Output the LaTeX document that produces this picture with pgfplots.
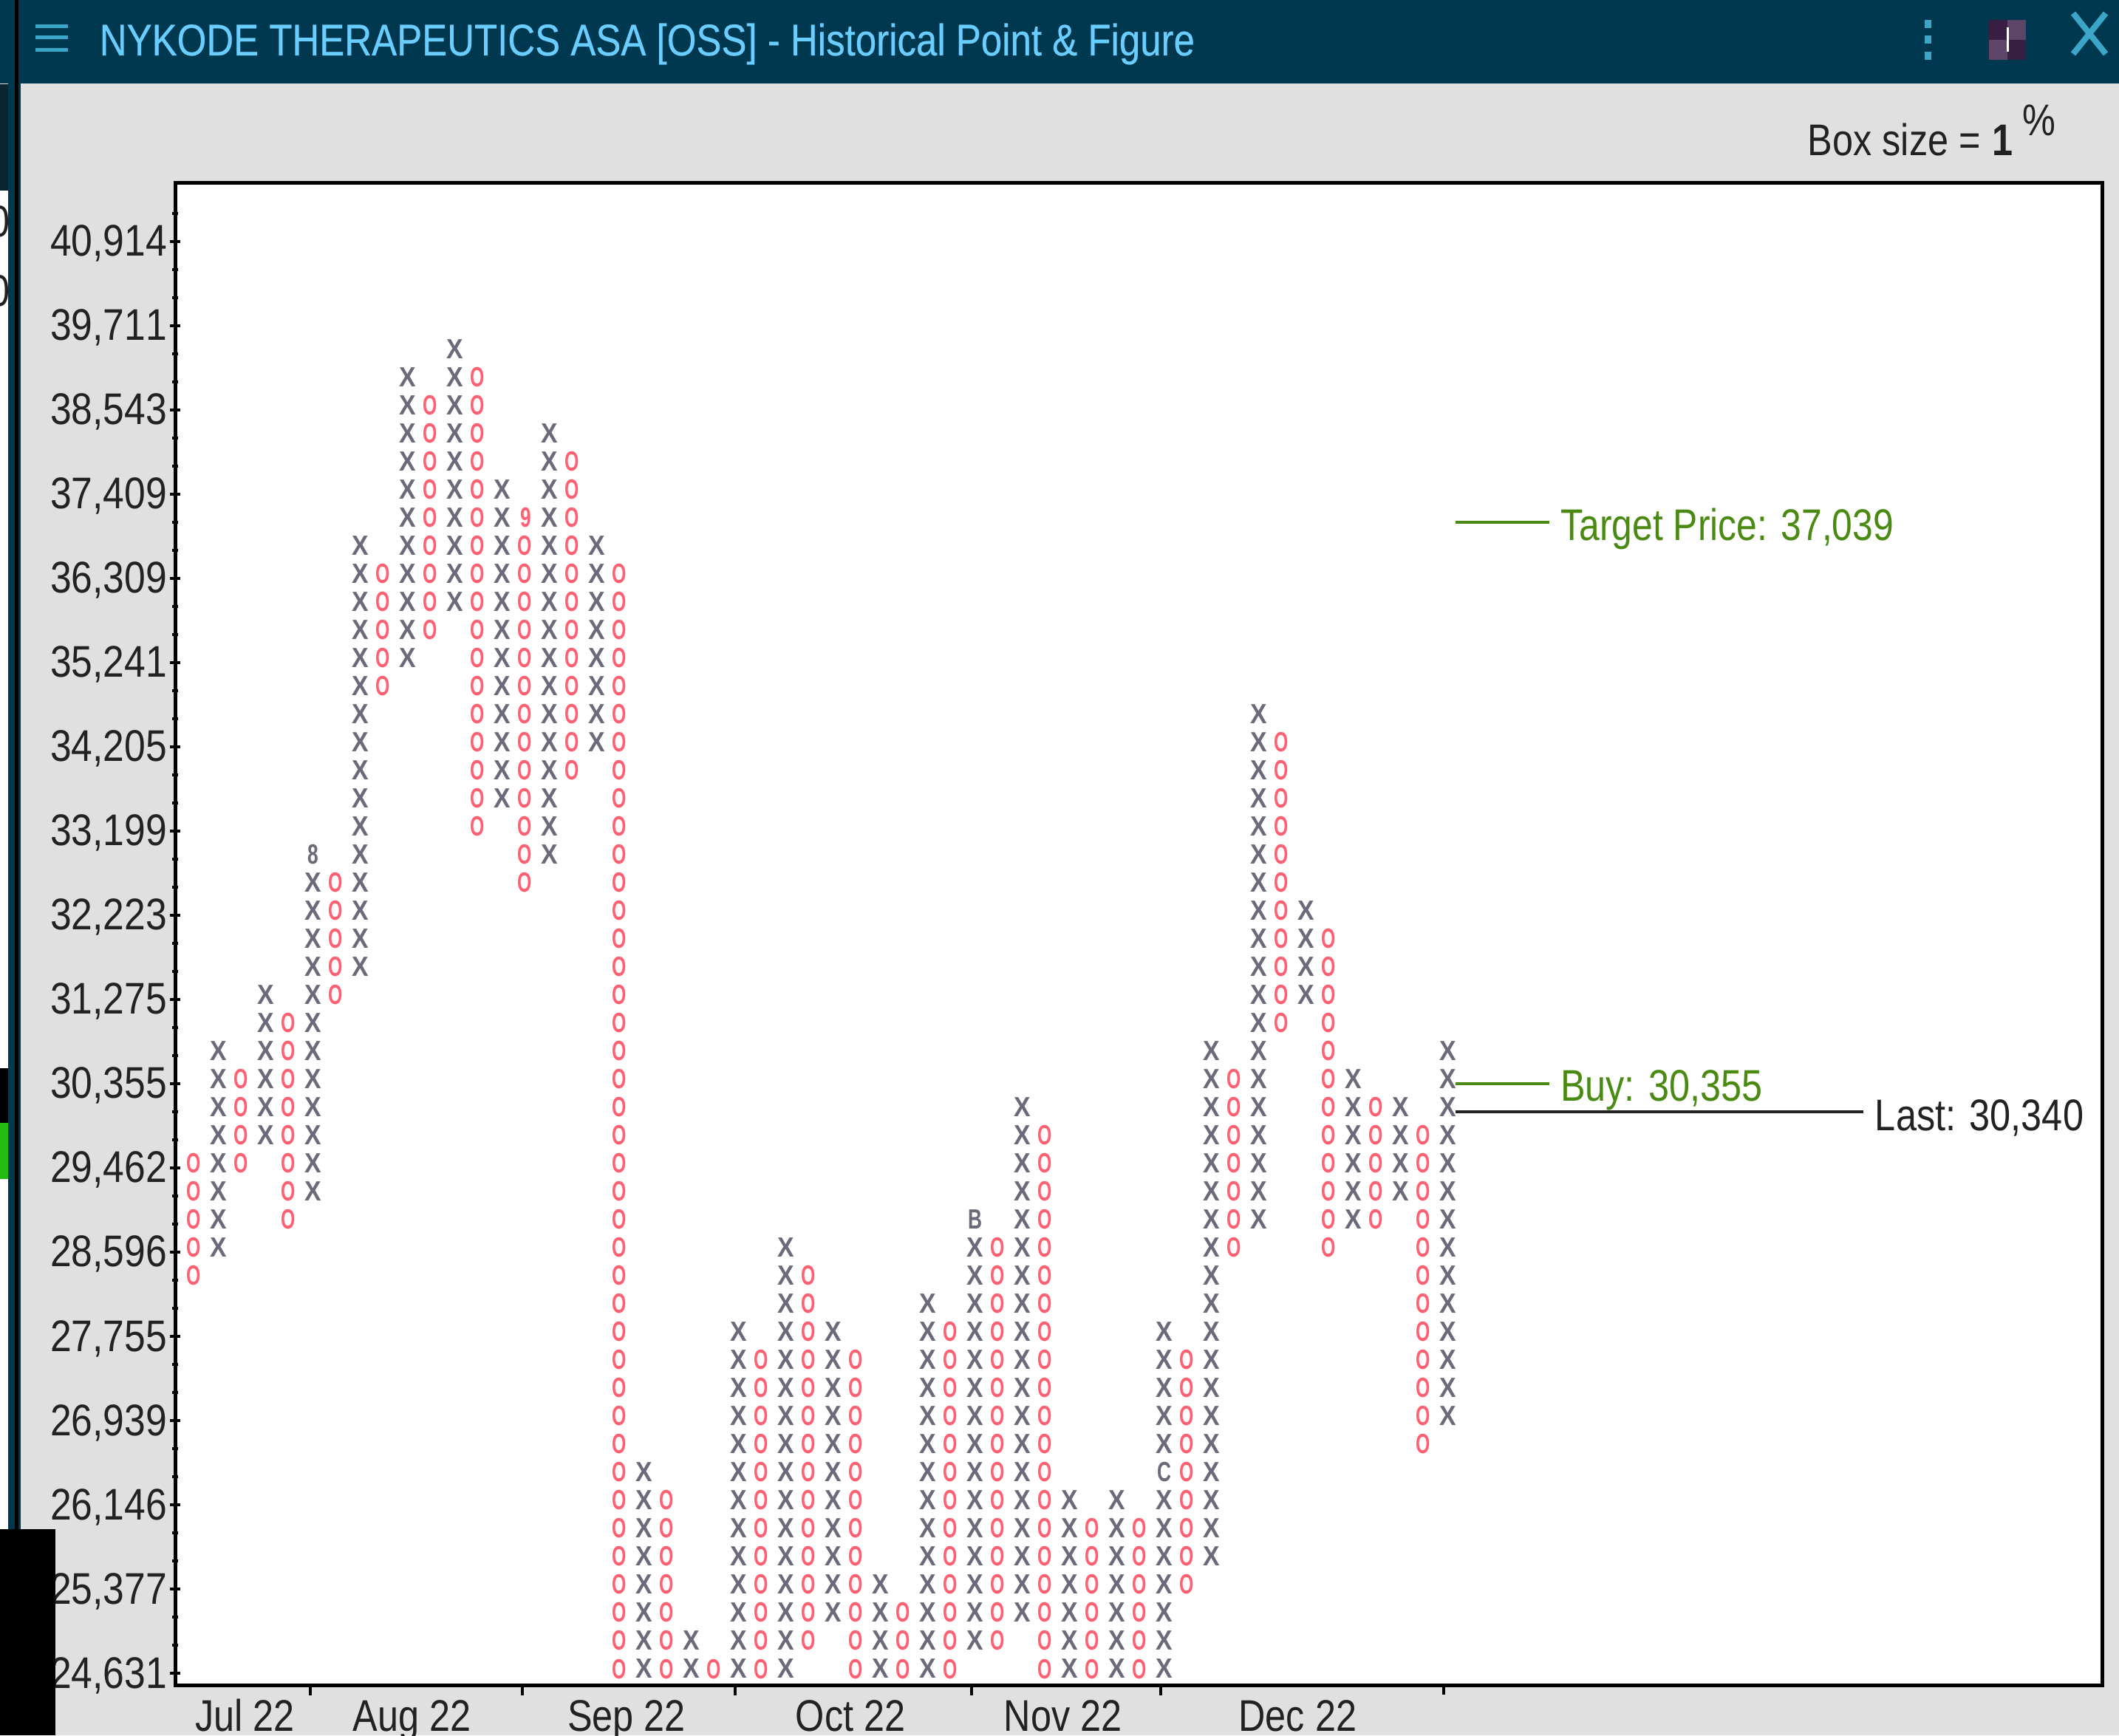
\documentclass[border=0pt]{standalone}
\usepackage{fontspec}
\usepackage{pgfplots}
\pgfplotsset{compat=1.18}
\setmainfont{Liberation Sans}[FakeStretch=0.84,Kerning=Off]
\newfontfamily\Tf{Liberation Sans}[FakeStretch=0.85,FakeBold=0.35,Kerning=Off]
\newfontfamily\Yf{Liberation Sans}[FakeStretch=0.86,Kerning=Off]
\newfontfamily\Xf{Liberation Sans}[FakeStretch=0.9]
\newfontfamily\Of{Liberation Sans}[FakeStretch=0.66]
\newfontfamily\Nf{Liberation Sans}[FakeStretch=0.7]
\definecolor{navy}{HTML}{00384F}
\definecolor{panel}{HTML}{E0E0E0}
\definecolor{cyanT}{HTML}{6ACDFF}
\definecolor{iconC}{HTML}{3BA6C8}
\definecolor{xcol}{HTML}{6A6A78}
\definecolor{ocol}{HTML}{FF6072}
\definecolor{greenT}{HTML}{4A8A12}
\definecolor{txt}{HTML}{222222}
\definecolor{dk}{HTML}{0A2530}
\definecolor{sqA}{HTML}{3A1F45}
\definecolor{sqB}{HTML}{5E4466}
\definecolor{brightG}{HTML}{22BB11}
\newcommand{\lab}{\fontsize{15pt}{17pt}\selectfont}
\begin{document}
\begin{tikzpicture}
\path[use as bounding box] (0,0) rectangle (717pt,587.25pt);
\begin{scope}[x=0.25pt,y=-0.25pt,yshift=587.25pt]
\fill[panel] (0,0) rectangle (2868,2349);
\fill[white] (0,258) rectangle (11,2070);
\fill[navy] (0,0) rectangle (2868,113);
\fill[navy] (11,113) rectangle (28,2070);
\fill[black] (20,0) rectangle (25,2070);
\fill[dk] (0,114) rectangle (11,258);
\fill[black] (0,1446) rectangle (11,1520);
\fill[brightG] (0,1520) rectangle (11,1596);
\begin{scope}
\clip (0,258) rectangle (11,500);
\node[anchor=base,text=txt,font=\lab] at (0,321) {0};
\node[anchor=base,text=txt,font=\lab] at (0,415) {0};
\end{scope}
% header
\foreach \yy in {36,51,68} \fill[iconC] (48,\yy-2.5) rectangle (92,\yy+2.5);
\node[anchor=base west,inner sep=0pt,text=cyanT,font=\fontsize{15pt}{17pt}\Tf] at (134,75) {NYKODE THERAPEUTICS ASA [OSS] - Historical Point \& Figure};
\foreach \yy in {27,48,70} \fill[iconC] (2605,\yy) rectangle (2614,\yy+11);
\fill[sqA] (2692,27) rectangle (2742,81);
\fill[sqB] (2717,27) rectangle (2742,54);
\fill[sqB] (2692,54) rectangle (2717,81);
\fill[white] (2716,37) rectangle (2719,70);
\draw[iconC,line width=2pt] (2806,18) -- (2850,73) (2850,18) -- (2806,73);
% box size
\node[anchor=base west,inner sep=0pt,text=txt,font=\lab] at (2446,211) {Box size = \hspace{0.4pt}\textbf{1}};
\node[anchor=base west,inner sep=0pt,text=txt,font=\lab] at (2737,184) {\%};
\end{scope}
\begin{axis}[
  at={(59.25pt,17pt)},anchor=south west,
  scale only axis,width=652pt,height=508.5pt,
  xmin=-0.834,xmax=80.66,ymin=-0.42,ymax=53.1,
  clip=false,
  axis background/.style={fill=white},
  axis line style={line width=1.25pt,black},
  tick style={black,line width=1pt},
  ytick pos=left,xtick pos=bottom,
  ytick={0,3,...,51},
  yticklabels={24{,}631,25{,}377,26{,}146,26{,}939,27{,}755,28{,}596,29{,}462,30{,}355,31{,}275,32{,}223,33{,}199,34{,}205,35{,}241,36{,}309,37{,}409,38{,}543,39{,}711,40{,}914},
  minor ytick={0,1,...,52},
  ytick align=center,
  major tick length=3.5pt,
  minor tick length=2pt,
  minor tick style={black,line width=1pt},
  yticklabel style={anchor=base east,font=\fontsize{15pt}{17pt}\Yf,text=txt,xshift=-0.8pt,yshift=-5pt,inner sep=0pt},
  xtick={4.88,13.85,22.85,32.85,40.85},
  xticklabels={},
  xtick align=outside,
  extra x ticks={2.12,9.18,18.26,27.73,36.71,46.64},
  extra x tick labels={Jul 22,Aug 22,Sep 22,Oct 22,Nov 22,Dec 22},
  extra x tick style={tick style={draw=none},
    xticklabel style={anchor=base,font=\lab,text=txt,yshift=-12pt,inner sep=0pt}},
  xlabel={},ylabel={},
]
% X columns
\addplot[only marks,mark=text,text mark={X},text mark as node=true,
  text mark style={font=\fontsize{9.4pt}{10pt}\Xf\bfseries,text=xcol,inner sep=0pt,yshift=1.5pt}] coordinates {
(1,15)(1,16)(1,17)(1,18)(1,19)(1,20)(1,21)(1,22)
(3,19)(3,20)(3,21)(3,22)(3,23)(3,24)
(5,17)(5,18)(5,19)(5,20)(5,21)(5,22)(5,23)(5,24)(5,25)(5,26)(5,27)(5,28)
(7,25)(7,26)(7,27)(7,28)(7,29)(7,30)(7,31)(7,32)(7,33)(7,34)(7,35)(7,36)(7,37)(7,38)(7,39)(7,40)
(9,36)(9,37)(9,38)(9,39)(9,40)(9,41)(9,42)(9,43)(9,44)(9,45)(9,46)
(11,38)(11,39)(11,40)(11,41)(11,42)(11,43)(11,44)(11,45)(11,46)(11,47)
(13,31)(13,32)(13,33)(13,34)(13,35)(13,36)(13,37)(13,38)(13,39)(13,40)(13,41)(13,42)
(15,29)(15,30)(15,31)(15,32)(15,33)(15,34)(15,35)(15,36)(15,37)(15,38)(15,39)(15,40)(15,41)(15,42)(15,43)(15,44)
(17,33)(17,34)(17,35)(17,36)(17,37)(17,38)(17,39)(17,40)
(19,0)(19,1)(19,2)(19,3)(19,4)(19,5)(19,6)(19,7)
(21,0)(21,1)
(23,0)(23,1)(23,2)(23,3)(23,4)(23,5)(23,6)(23,7)(23,8)(23,9)(23,10)(23,11)(23,12)
(25,0)(25,1)(25,2)(25,3)(25,4)(25,5)(25,6)(25,7)(25,8)(25,9)(25,10)(25,11)(25,12)(25,13)(25,14)(25,15)
(27,2)(27,3)(27,4)(27,5)(27,6)(27,7)(27,8)(27,9)(27,10)(27,11)(27,12)
(29,0)(29,1)(29,2)(29,3)
(31,0)(31,1)(31,2)(31,3)(31,4)(31,5)(31,6)(31,7)(31,8)(31,9)(31,10)(31,11)(31,12)(31,13)
(33,1)(33,2)(33,3)(33,4)(33,5)(33,6)(33,7)(33,8)(33,9)(33,10)(33,11)(33,12)(33,13)(33,14)(33,15)
(35,2)(35,3)(35,4)(35,5)(35,6)(35,7)(35,8)(35,9)(35,10)(35,11)(35,12)(35,13)(35,14)(35,15)(35,16)(35,17)(35,18)(35,19)(35,20)
(37,0)(37,1)(37,2)(37,3)(37,4)(37,5)(37,6)
(39,0)(39,1)(39,2)(39,3)(39,4)(39,5)(39,6)
(41,0)(41,1)(41,2)(41,3)(41,4)(41,5)(41,6)(41,8)(41,9)(41,10)(41,11)(41,12)
(43,4)(43,5)(43,6)(43,7)(43,8)(43,9)(43,10)(43,11)(43,12)(43,13)(43,14)(43,15)(43,16)(43,17)(43,18)(43,19)(43,20)(43,21)(43,22)
(45,16)(45,17)(45,18)(45,19)(45,20)(45,21)(45,22)(45,23)(45,24)(45,25)(45,26)(45,27)(45,28)(45,29)(45,30)(45,31)(45,32)(45,33)(45,34)
(47,24)(47,25)(47,26)(47,27)
(49,16)(49,17)(49,18)(49,19)(49,20)(49,21)
(51,17)(51,18)(51,19)(51,20)
(53,9)(53,10)(53,11)(53,12)(53,13)(53,14)(53,15)(53,16)(53,17)(53,18)(53,19)(53,20)(53,21)(53,22)
};
% O columns
\addplot[only marks,mark=text,text mark={O},text mark as node=true,
  text mark style={font=\fontsize{9.4pt}{10pt}\Of\bfseries,text=ocol,inner sep=0pt,yshift=1.5pt,xshift=-0.5pt}] coordinates {
(0,14)(0,15)(0,16)(0,17)(0,18)
(2,18)(2,19)(2,20)(2,21)
(4,16)(4,17)(4,18)(4,19)(4,20)(4,21)(4,22)(4,23)
(6,24)(6,25)(6,26)(6,27)(6,28)
(8,35)(8,36)(8,37)(8,38)(8,39)
(10,37)(10,38)(10,39)(10,40)(10,41)(10,42)(10,43)(10,44)(10,45)
(12,30)(12,31)(12,32)(12,33)(12,34)(12,35)(12,36)(12,37)(12,38)(12,39)(12,40)(12,41)(12,42)(12,43)(12,44)(12,45)(12,46)
(14,28)(14,29)(14,30)(14,31)(14,32)(14,33)(14,34)(14,35)(14,36)(14,37)(14,38)(14,39)(14,40)
(16,32)(16,33)(16,34)(16,35)(16,36)(16,37)(16,38)(16,39)(16,40)(16,41)(16,42)(16,43)
(18,0)(18,1)(18,2)(18,3)(18,4)(18,5)(18,6)(18,7)(18,8)(18,9)(18,10)(18,11)(18,12)(18,13)(18,14)(18,15)(18,16)(18,17)(18,18)(18,19)(18,20)(18,21)(18,22)(18,23)(18,24)(18,25)(18,26)(18,27)(18,28)(18,29)(18,30)(18,31)(18,32)(18,33)(18,34)(18,35)(18,36)(18,37)(18,38)(18,39)
(20,0)(20,1)(20,2)(20,3)(20,4)(20,5)(20,6)
(22,0)
(24,0)(24,1)(24,2)(24,3)(24,4)(24,5)(24,6)(24,7)(24,8)(24,9)(24,10)(24,11)
(26,1)(26,2)(26,3)(26,4)(26,5)(26,6)(26,7)(26,8)(26,9)(26,10)(26,11)(26,12)(26,13)(26,14)
(28,0)(28,1)(28,2)(28,3)(28,4)(28,5)(28,6)(28,7)(28,8)(28,9)(28,10)(28,11)
(30,0)(30,1)(30,2)
(32,0)(32,1)(32,2)(32,3)(32,4)(32,5)(32,6)(32,7)(32,8)(32,9)(32,10)(32,11)(32,12)
(34,1)(34,2)(34,3)(34,4)(34,5)(34,6)(34,7)(34,8)(34,9)(34,10)(34,11)(34,12)(34,13)(34,14)(34,15)
(36,0)(36,1)(36,2)(36,3)(36,4)(36,5)(36,6)(36,7)(36,8)(36,9)(36,10)(36,11)(36,12)(36,13)(36,14)(36,15)(36,16)(36,17)(36,18)(36,19)
(38,0)(38,1)(38,2)(38,3)(38,4)(38,5)
(40,0)(40,1)(40,2)(40,3)(40,4)(40,5)
(42,3)(42,4)(42,5)(42,6)(42,7)(42,8)(42,9)(42,10)(42,11)
(44,15)(44,16)(44,17)(44,18)(44,19)(44,20)(44,21)
(46,23)(46,24)(46,25)(46,26)(46,27)(46,28)(46,29)(46,30)(46,31)(46,32)(46,33)
(48,15)(48,16)(48,17)(48,18)(48,19)(48,20)(48,21)(48,22)(48,23)(48,24)(48,25)(48,26)
(50,16)(50,17)(50,18)(50,19)(50,20)
(52,8)(52,9)(52,10)(52,11)(52,12)(52,13)(52,14)(52,15)(52,16)(52,17)(52,18)(52,19)
};
% month-start glyphs
\addplot[only marks,mark=text,text mark={8},text mark as node=true,
  text mark style={font=\fontsize{9.4pt}{10pt}\Nf\bfseries,text=xcol,inner sep=0pt,yshift=1.5pt}] coordinates {(5,29)};
\addplot[only marks,mark=text,text mark={9},text mark as node=true,
  text mark style={font=\fontsize{9.4pt}{10pt}\Nf\bfseries,text=ocol,inner sep=0pt,yshift=1.5pt}] coordinates {(14,41)};
\addplot[only marks,mark=text,text mark={B},text mark as node=true,
  text mark style={font=\fontsize{9.4pt}{10pt}\Nf\bfseries,text=xcol,inner sep=0pt,yshift=1.5pt}] coordinates {(33,16)};
\addplot[only marks,mark=text,text mark={C},text mark as node=true,
  text mark style={font=\fontsize{9.4pt}{10pt}\Nf\bfseries,text=xcol,inner sep=0pt,yshift=1.5pt}] coordinates {(41,7)};
% level lines
\addplot[greenT,line width=1pt,no marks] coordinates {(53.32,41)(57.3,41)};
\addplot[greenT,line width=1pt,no marks] coordinates {(53.32,21)(57.3,21)};
\addplot[txt,line width=1pt,no marks] coordinates {(53.32,20)(70.57,20)};
\node[anchor=base west,inner sep=0pt,text=greenT,font=\fontsize{15pt}{17pt}\Xf\addfontfeature{FakeStretch=0.83}] at (axis cs:57.75,40.34) {Target Price: 37,039};
\node[anchor=base west,inner sep=0pt,text=greenT,font=\lab] at (axis cs:57.73,20.37) {Buy: 30,355};
\node[anchor=base west,inner sep=0pt,text=txt,font=\lab] at (axis cs:71.04,19.34) {Last: 30,340};
\draw[black,line width=1pt] (axis cs:52.83,-0.42) -- ([yshift=-3.2pt]axis cs:52.83,-0.42);
\end{axis}
\begin{scope}[x=0.25pt,y=-0.25pt,yshift=587.25pt]
\fill[black] (0,2070) rectangle (75,2349);
\end{scope}
\end{tikzpicture}
\end{document}
